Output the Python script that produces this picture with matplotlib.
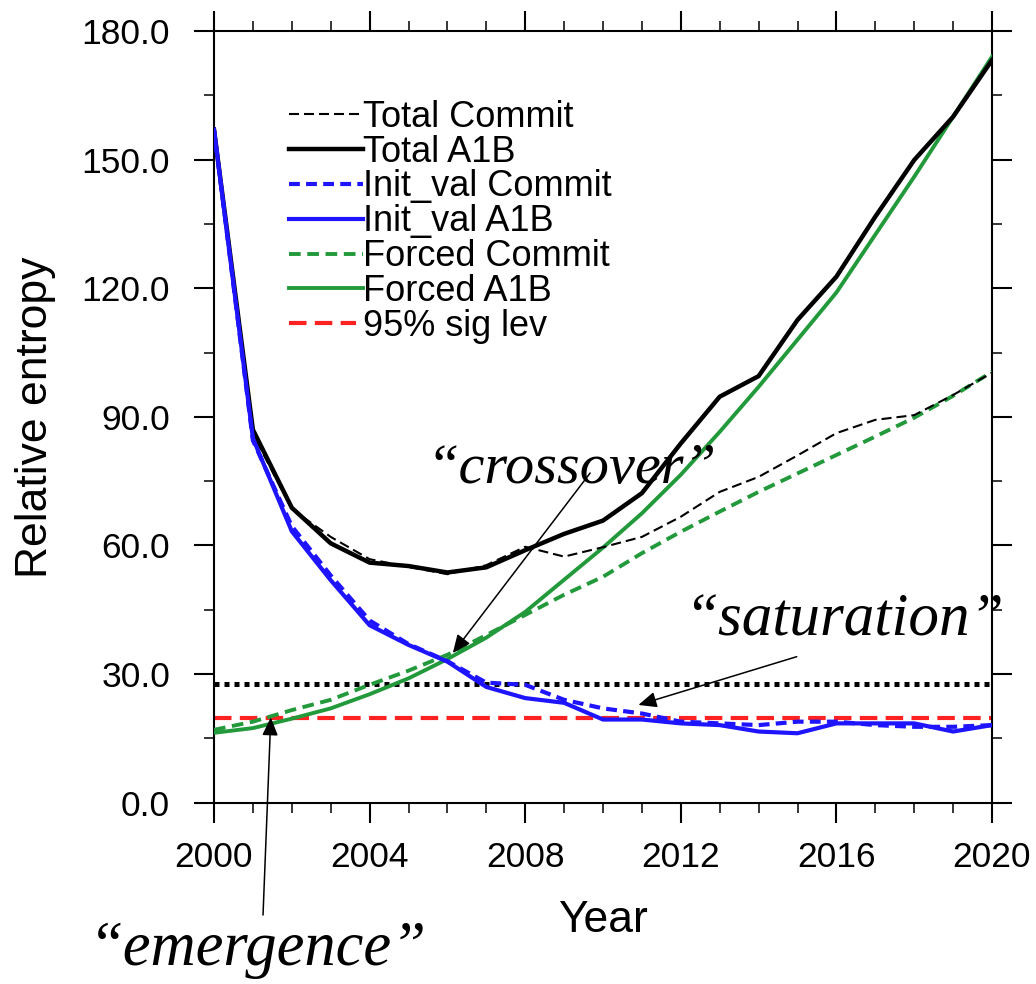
import matplotlib
matplotlib.use("Agg")
import matplotlib.pyplot as plt
from matplotlib.ticker import MultipleLocator, FormatStrFormatter

plt.rcParams['font.family'] = ['Liberation Sans', 'DejaVu Sans']

# ---- data -------------------------------------------------------------
years = list(range(2000, 2021))

total_commit = [157.0, 86.0, 68.5, 62.0, 56.8, 55.0, 53.3, 55.4, 59.7, 57.4, 59.6,
                62.0, 66.7, 72.5, 76.0, 81.0, 86.2, 89.3, 90.4, 95.1, 100.3]
total_a1b = [157.0, 87.0, 68.8, 60.5, 56.0, 55.2, 53.7, 54.9, 58.9, 62.7, 65.8,
             72.2, 83.8, 94.7, 99.5, 112.6, 122.7, 136.7, 149.9, 160.0, 173.2]
init_commit = [157.0, 84.5, 64.5, 53.0, 42.5, 37.0, 33.0, 28.0, 27.5, 24.0, 22.0,
               20.8, 18.9, 18.5, 18.1, 18.9, 18.9, 18.1, 17.7, 17.7, 18.1]
init_a1b = [157.0, 85.0, 63.3, 51.9, 41.4, 36.8, 32.9, 27.0, 24.4, 23.3, 19.4,
            19.4, 18.5, 18.1, 16.6, 16.2, 18.5, 18.5, 18.5, 16.6, 18.1]
forced_commit = [17.0, 18.9, 21.6, 24.0, 27.5, 30.8, 34.5, 39.1, 43.8, 48.5, 52.7,
                 58.2, 63.2, 67.9, 72.5, 76.8, 81.1, 85.4, 89.8, 94.9, 100.5]
forced_a1b = [16.3, 17.4, 19.6, 22.0, 25.3, 29.0, 33.5, 38.5, 44.5, 52.0, 59.5,
              67.5, 76.5, 86.5, 97.0, 108.0, 119.0, 132.5, 146.0, 160.0, 174.0]

sig_level_95 = 19.8
upper_level = 27.7

labels = ["Total Commit", "Total A1B", "Init_val Commit", "Init_val A1B",
          "Forced Commit", "Forced A1B", "95% sig lev"]

# ---- styles -----------------------------------------------------------
BLACK = "#000000"
BLUE = "#1e14ff"
GREEN = "#22993a"
RED = "#ff2222"

styles = [
    dict(color=BLACK, lw=1.5, ls=(0, (4.8, 2.4))),
    dict(color=BLACK, lw=3.2, ls="-"),
    dict(color=BLUE, lw=3.0, ls=(0, (2.6, 1.5))),
    dict(color=BLUE, lw=3.0, ls="-"),
    dict(color=GREEN, lw=2.8, ls=(0, (3.0, 1.7))),
    dict(color=GREEN, lw=2.8, ls="-"),
    dict(color=RED, lw=3.0, ls=(0, (4.2, 2.0))),
]
series = [total_commit, total_a1b, init_commit, init_a1b, forced_commit, forced_a1b]

W, H, DPI = 1036, 984, 100
fig = plt.figure(figsize=(W / DPI, H / DPI), dpi=DPI)
ax_l, ax_r, ax_b, ax_t = 214, 992, 802.7, 31
ax = fig.add_axes([ax_l / W, 1 - ax_b / H, (ax_r - ax_l) / W, (ax_b - ax_t) / H])

# reference levels
ax.axhline(upper_level, color=BLACK, lw=3.6, ls=(0, (1, 1)), dash_capstyle="butt", zorder=2)
ax.axhline(sig_level_95, color=RED, lw=styles[6]["lw"], ls=styles[6]["ls"], zorder=2)

# curves
order = [4, 5, 0, 1, 2, 3]
for i in order:
    st = styles[i]
    ax.plot(years, series[i], color=st["color"], lw=st["lw"], ls=st["ls"],
            solid_joinstyle="miter", zorder=3)

ax.set_xlim(2000, 2020)
ax.set_ylim(0, 180)
ax.xaxis.set_major_locator(MultipleLocator(4))
ax.xaxis.set_minor_locator(MultipleLocator(1))
ax.yaxis.set_major_locator(MultipleLocator(30))
ax.yaxis.set_minor_locator(MultipleLocator(15))
ax.yaxis.set_major_formatter(FormatStrFormatter("%.1f"))

for sp in ax.spines.values():
    sp.set_linewidth(1.5)
ax.tick_params(which="both", direction="out", top=True, right=True,
               labelsize=25.5, width=1.5)
ax.tick_params(which="major", length=14.5)
ax.tick_params(which="minor", length=7.2, width=1.1)
ax.tick_params(axis="y", which="major", pad=17)
ax.tick_params(axis="x", which="major", pad=13)

ax.set_xlabel("Year", fontsize=32)
ax.set_ylabel("Relative entropy", fontsize=32)
ax.xaxis.set_label_coords(0.5, (ax_b - 900) / (ax_b - ax_t))
ax.yaxis.set_label_coords((56 - ax_l) / (ax_r - ax_l), 0.5)


# legend drawn row by row
def ax_y(px):
    return (ax_b - px) / (ax_b - ax_t)


def ax_x(px):
    return (px - ax_l) / (ax_r - ax_l)


row0, dy = 114.3, 34.83
for k, (lab, st) in enumerate(zip(labels, styles)):
    yp = row0 + k * dy
    x_end = 363 if k < 6 else 356
    ax.plot([ax_x(289), ax_x(x_end)], [ax_y(yp)] * 2, transform=ax.transAxes,
            color=st["color"], lw=st["lw"] if k != 0 else 1.5, ls=st["ls"],
            clip_on=False, zorder=4)
    ax.text(ax_x(363), ax_y(yp + 12.5), lab, transform=ax.transAxes,
            fontsize=26, ha="left", va="baseline", zorder=4)

# annotations
script = dict(family=["Liberation Serif", "DejaVu Serif"], style="italic")
arrow = dict(arrowstyle="-|>,head_length=0.55,head_width=0.24", mutation_scale=20,
             lw=1.1, color=BLACK, shrinkA=0, shrinkB=0)

ax.annotate("", xy=(2006.14, 34.9), xytext=(2009.67, 76.9), arrowprops=arrow,
            annotation_clip=False)
ax.annotate("", xy=(2010.91, 22.8), xytext=(2014.98, 34.06), arrowprops=arrow,
            annotation_clip=False)
ax.annotate("", xy=(2001.46, 19.9), xytext=(2001.26, -26.2), arrowprops=arrow,
            annotation_clip=False)

fig.text(571 / W, 1 - 483 / H, "\u201ccrossover\u201d", ha="center", va="baseline",
         fontsize=42, **script)
fig.text(844 / W, 1 - 635 / H, "\u201csaturation\u201d", ha="center", va="baseline",
         fontsize=44, **script)
fig.text(258 / W, 1 - 965 / H, "\u201cemergence\u201d", ha="center", va="baseline",
         fontsize=45, **script)

fig.savefig("out.png", dpi=DPI)
